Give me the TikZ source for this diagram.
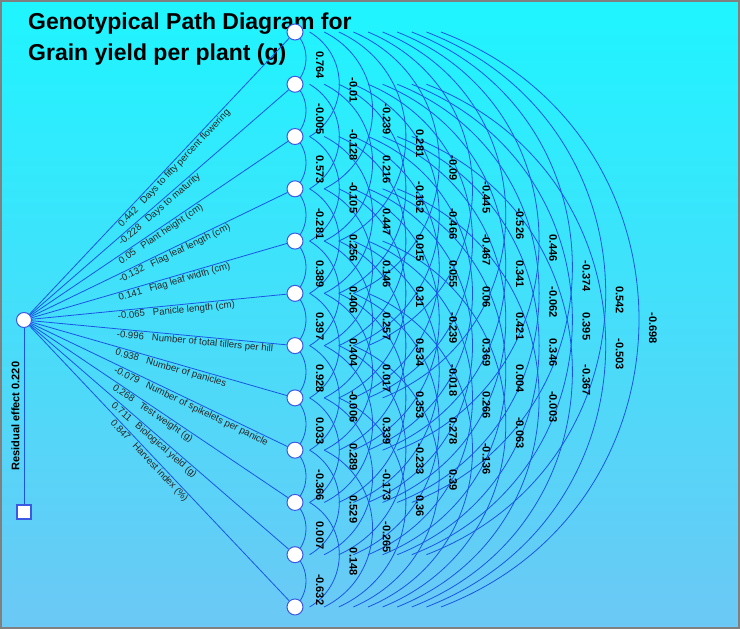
\documentclass[tikz,border=0pt]{standalone}
\usepackage{fontspec}
\setmainfont{Liberation Sans}
\definecolor{linkblue}{RGB}{25,85,230}
\definecolor{ringblue}{RGB}{60,90,225}
\definecolor{skytop}{RGB}{30,245,255}
\definecolor{skymid}{RGB}{52,225,251}
\definecolor{skybot}{RGB}{108,200,245}
\begin{document}
\begin{tikzpicture}[x=1pt,y=1pt]
      \tikzstyle{trait}=[circle, draw=ringblue, fill=white, line width=1pt, minimum size=16pt, inner sep=0pt]
      \tikzstyle{link}=[linkblue, line width=0.8pt]
      \tikzstyle{corr}=[rotate=-90, anchor=west, inner sep=0pt, text=black, font=\fontsize{11}{11}\selectfont\bfseries]
      \tikzstyle{effect}=[sloped, pos=0.33, anchor=north west, inner sep=1pt, text=black!85, font=\fontsize{9.6}{11}\selectfont]

      \useasboundingbox (0,0) rectangle (740,-629);
      \shade[top color=skytop, middle color=skymid, bottom color=skybot] (0,0) rectangle (740,-629);
      \draw[gray, line width=2pt] (1,-1) rectangle (739,-628);

      \path (28,-30) node[anchor=base west, inner sep=0pt, font=\fontsize{23}{27}\selectfont\bfseries] (title1) {Genotypical Path Diagram for};
      \path (28,-60) node[anchor=base west, inner sep=0pt, font=\fontsize{23}{27}\selectfont\bfseries] (title2) {Grain yield per plant (g)};

      \foreach \k in {1, ..., 12}
      {
        \coordinate (p\k) at (295, {-32-52.27*(\k-1)});
      }

      % correlation arcs
      \foreach \i in {1, ..., 11}
      {
        \pgfmathtruncatemacro\inext{\i+1}
        \foreach \j in {\inext, ..., 12}
        {
          \pgfmathtruncatemacro\gap{\j-\i}
          \pgfmathsetmacro\offs{14.6*(\gap-1)}
          \pgfmathsetmacro\bulge{11+18.7*(\gap-1)}
          \pgfmathsetmacro\tilt{90-2*atan(2*\bulge/(52.27*\gap))}
          \pgfmathsetmacro\reach{\bulge/(0.75*cos(\tilt))}
          \draw[link] ([xshift=\offs pt]p\i) .. controls +(-\tilt:\reach pt) and +(\tilt:\reach pt) .. ([xshift=\offs pt]p\j);
        }
      }

      \foreach \vals [count=\gap] in {
        {0.764,-0.005,0.573,-0.281,0.389,0.397,0.928,0.033,-0.366,0.007,-0.632},
        {-0.01,-0.128,-0.105,0.256,0.406,0.404,-0.006,0.289,0.529,0.148},
        {-0.239,0.216,0.447,0.146,0.257,0.017,0.339,-0.173,-0.265},
        {0.281,-0.162,0.015,0.31,0.534,0.353,-0.233,0.36},
        {-0.09,-0.466,0.055,-0.239,-0.018,0.278,0.39},
        {-0.445,-0.467,0.06,0.369,0.266,-0.136},
        {-0.526,0.341,0.421,0.004,-0.063},
        {0.446,-0.062,0.346,-0.003},
        {-0.374,0.395,-0.367},
        {0.542,-0.503},
        {-0.698}}
      {
        \foreach \v [count=\i] in \vals
        {
          \path ({320+33.3*(\gap-1)}, {-(32+52.27*(\i-1)+26.13*\gap-7)}) node[corr] (r\gap-\i) {\v};
        }
      }

      \foreach \k in {1, ..., 12}
      {
        \path (p\k) node[trait] (t\k) {};
      }
      \path (24,-320) node[trait, minimum size=15pt] (gy) {};
      \path (24,-512) node[draw=ringblue, fill=white, line width=1.2pt, minimum size=14pt, inner sep=0pt] (res) {};

      \foreach \k/\coef/\name in {
        1/0.442/Days to fifty percent flowering,
        2/-0.228/Days to maturity,
        3/0.05/Plant height (cm),
        4/-0.132/Flag leaf length (cm),
        5/0.141/Flag leaf width (cm),
        6/-0.065/Panicle length (cm),
        7/-0.996/Number of total tillers per hill,
        8/0.938/Number of panicles,
        9/-0.079/Number of spikelets per panicle,
        10/0.268/Test weight (g),
        11/0.711/Biological yield (g),
        12/0.847/Harvest index (\%)}
      {
        \draw[link] (gy) -- (t\k) node[effect] {\coef\hspace{8pt}\name};
      }

      \draw[link] (gy) -- (res)
        node[midway, rotate=90, anchor=south, inner sep=4pt, text=black, font=\fontsize{11}{11}\selectfont\bfseries] {Residual effect 0.220};
    \end{tikzpicture}
\end{document}
